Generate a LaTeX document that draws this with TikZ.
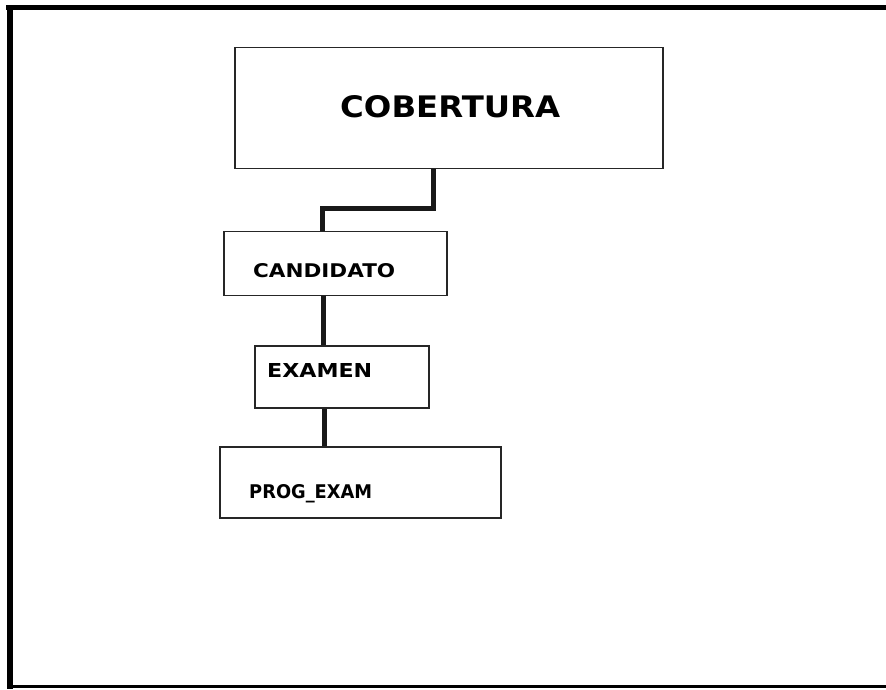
\documentclass[tikz,border=0pt]{standalone}
\usepackage{fontspec}
\setmainfont{DejaVu Sans}
\usepackage{graphicx}
\begin{document}
\begin{tikzpicture}[x=1pt,y=-1pt,
  box/.style={draw=black!85,line width=1.3pt,rectangle,inner sep=0pt},
  lbl/.style={inner sep=0pt,anchor=base west,font=\bfseries},
  conn/.style={line width=5pt,black!90},
  frame/.style={black,line cap=rect}]
\useasboundingbox (0,0) rectangle (886,690);
% outer frame (left, top, bottom)
\draw[frame,line width=6pt] (10,686) -- (10,8);
\draw[frame,line width=5pt] (8,7.5) -- (886,7.5);
\draw[frame,line width=3pt] (8,686.5) -- (886,686.5);
% boxes
\node[box,minimum width=428pt,minimum height=121pt] (cob)  at (449,108) {};
\node[box,minimum width=223pt,minimum height=64pt]  (cand) at (335.5,263.5) {};
\node[box,minimum width=174pt,minimum height=62pt]  (exam) at (342,377) {};
\node[box,minimum width=281pt,minimum height=71pt]  (prog) at (360.5,482.5) {};
% labels
\node[lbl] (tcob)  at (340,117.5) {\resizebox{220pt}{22pt}{COBERTURA}};
\node[lbl] (tcand) at (253,277) {\resizebox{142pt}{14pt}{CANDIDATO}};
\node[lbl] (texam) at (267,377) {\resizebox{105pt}{14pt}{EXAMEN}};
\node[lbl] (tprog) at (249,498.5) {\resizebox{123pt}{14pt}{PROG\_EXAM}};
% connectors
\draw[conn] ([xshift=-16pt]cob.south) -- ++(0,39) -| ([xshift=-13pt]cand.north);
\draw[conn] ([xshift=-12.5pt]cand.south) -- ([xshift=-19pt]exam.north);
\draw[conn] ([xshift=-18pt]exam.south) -- ([xshift=-36.5pt]prog.north);
\end{tikzpicture}
\end{document}
